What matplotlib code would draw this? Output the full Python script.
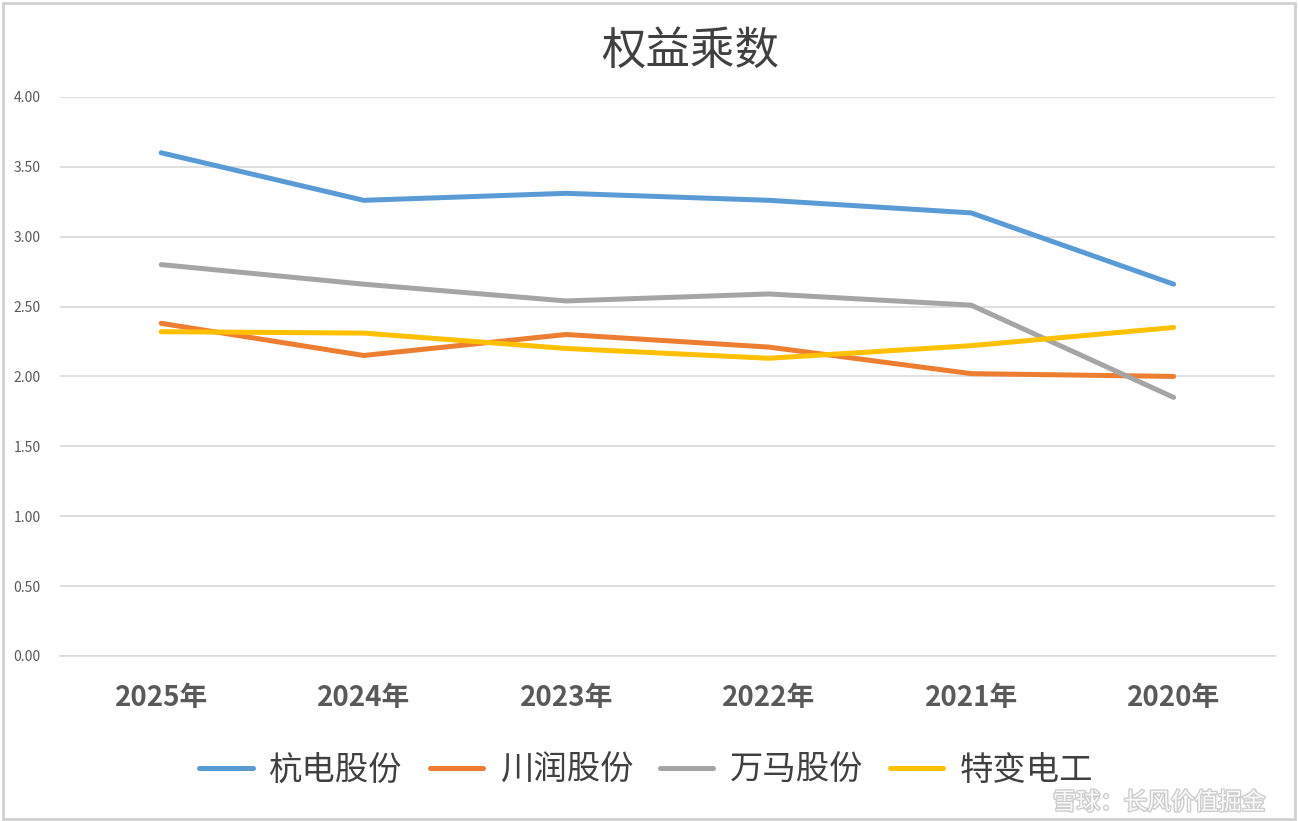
import numpy as np
import matplotlib.pyplot as plt
import matplotlib.patheffects as pe
from matplotlib.patches import Rectangle

plt.rcParams['font.family'] = ['Noto Sans CJK SC', 'DejaVu Sans']

years = ['2025年', '2024年', '2023年', '2022年', '2021年', '2020年']
hangdian = [3.60, 3.26, 3.31, 3.26, 3.17, 2.66]
chuanrun = [2.38, 2.15, 2.30, 2.21, 2.02, 2.00]
wanma = [2.80, 2.66, 2.54, 2.59, 2.51, 1.85]
tebian = [2.32, 2.31, 2.20, 2.13, 2.22, 2.35]

names = ['杭电股份', '川润股份', '万马股份', '特变电工']
colors = ['#5B9BD5', '#ED7D31', '#A5A5A5', '#FFC000']
series = [hangdian, chuanrun, wanma, tebian]

fig = plt.figure(figsize=(12.98, 8.21), dpi=100)
ax = fig.add_axes([0.0462, 0.201, 0.936, 0.681])

x = np.arange(len(years))
for vals, name, c in zip(series, names, colors):
    ax.plot(x, vals, color=c, lw=3.6, label=name, solid_capstyle='round')

ax.set_xlim(-0.5, len(years) - 0.5)
ax.set_ylim(0, 4)
yt = np.arange(0, 4.01, 0.5)
ax.set_yticks(yt)
ax.set_yticklabels(['%.2f' % v for v in yt])
ax.set_xticks(x)
ax.set_xticklabels(years, fontsize=20, fontweight='bold', color='#595959')
ax.tick_params(axis='y', labelsize=10, colors='#595959', length=0, pad=14)
ax.tick_params(axis='x', length=0, pad=20)
ax.grid(axis='y', color='#D9D9D9', lw=1.2)
ax.set_axisbelow(True)
for s in ax.spines.values():
    s.set_visible(False)
ax.spines['bottom'].set_visible(True)
ax.spines['bottom'].set_color('#D9D9D9')
ax.spines['bottom'].set_linewidth(1.2)

fig.text(0.532, 0.938, '权益乘数', ha='center', va='center', fontsize=32, color='#404040')

leg = fig.legend(loc='center', bbox_to_anchor=(0.498, 0.062), ncol=4, frameon=False,
                 fontsize=24, handlelength=1.6, handletextpad=0.5, columnspacing=0.8)
for t in leg.get_texts():
    t.set_color('#404040')

# watermark, nudged below the legend
wm = fig.text(0.975, 0.022, '雪球：长风价值掘金', ha='right', va='center', fontsize=17,
              color='white', alpha=0.9)
wm.set_path_effects([pe.withStroke(linewidth=2, foreground='#C8C8C8')])

# outer frame
fig.patches.append(Rectangle((0.002, 0.002), 0.996, 0.994, transform=fig.transFigure,
                             fill=False, edgecolor='#D0D0D0', lw=2))

fig.savefig('out.png', dpi=100)
